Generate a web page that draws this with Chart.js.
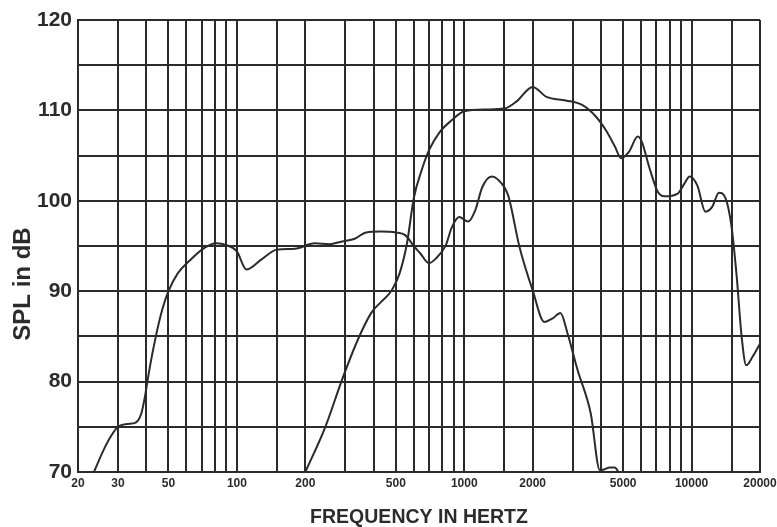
<!DOCTYPE html>
<html>
<head>
<meta charset="utf-8">
<script src="https://cdn.jsdelivr.net/npm/chart.js@4.4.1/dist/chart.umd.min.js"></script>
<style>
  html, body { margin: 0; padding: 0; background: #fff; }
  #box { width: 777px; height: 527px; }
</style>
</head>
<body>
<div id="box"><canvas id="myChart"></canvas></div>
<script>
// Data

// woofer curve: frequency (Hz) and level (dB)
const wooferHz = [23.5, 26, 28, 30, 33, 36, 38, 39.5, 41, 44, 47, 50, 55, 62, 72, 81, 90, 100, 110, 128, 150, 180, 220, 255, 290, 330, 370, 430, 500, 550, 600, 640, 700, 750, 830, 880, 950, 1040, 1120, 1200, 1320, 1400, 1560, 1750, 2000, 2250, 2450, 2650, 2850, 3150, 3600, 3950, 4150, 4350, 4600, 4750];
const wooferDb = [70, 72.5, 74, 75, 75.3, 75.5, 76.5, 78.5, 81, 85, 88, 90, 92, 93.4, 94.8, 95.3, 95.1, 94.4, 92.4, 93.5, 94.6, 94.7, 95.3, 95.2, 95.5, 95.8, 96.5, 96.6, 96.5, 96.2, 95, 94.2, 93.1, 93.6, 95.1, 97, 98.2, 97.7, 99, 101.5, 102.7, 102.4, 100.6, 94.9, 90.1, 86.6, 87, 87.6, 85.3, 81.3, 76.5, 70.2, 70.3, 70.5, 70.5, 70.1];

// tweeter / horn curve
const hornHz = [200, 245, 290, 340, 390, 430, 480, 520, 560, 600, 650, 700, 780, 880, 1000, 1250, 1500, 1700, 2000, 2300, 2800, 3300, 3800, 4200, 4600, 4900, 5300, 5800, 6050, 6500, 7100, 7600, 8700, 9300, 9800, 10600, 11500, 12300, 13200, 14100, 15000, 15800, 16600, 17400, 18600, 20000];
const hornDb = [70, 75, 80.2, 84.6, 87.6, 88.8, 90.1, 92, 95.3, 100.3, 103.4, 105.6, 107.6, 108.9, 109.9, 110.1, 110.2, 111, 112.6, 111.5, 111.1, 110.6, 109.3, 107.8, 106, 104.7, 105.4, 107.1, 106.5, 103.8, 101, 100.5, 100.8, 101.9, 102.7, 101.7, 98.8, 99.3, 100.9, 100.3, 97.1, 91.6, 85, 81.8, 82.8, 84.2];

// grid lines and tick labels
const xGrid = [20, 30, 40, 50, 60, 70, 80, 90, 100, 150, 200, 300, 400, 500, 600, 700, 800, 900, 1000, 1500, 2000, 3000, 4000, 5000, 6000, 7000, 8000, 9000, 10000, 15000, 20000];
const xLabels = [20, 30, 50, 100, 200, 500, 1000, 2000, 5000, 10000, 20000];
const yLabels = [70, 80, 90, 100, 110, 120];

const ink = '#2b2b2b';
const face = 'Liberation Sans, Arial, sans-serif';

function pts(xs, ys) {
  return xs.map((x, i) => ({x: x, y: ys[i]}));
}

// y axis title sits a bit below the middle in the original, so draw it here
const yTitle = {
  id: 'yTitle',
  afterDraw: function(chart) {
    const ctx = chart.ctx;
    ctx.save();
    ctx.translate(23, 284);
    ctx.rotate(-Math.PI / 2);
    ctx.font = 'bold 24px ' + face;
    ctx.fillStyle = ink;
    ctx.textAlign = 'center';
    ctx.textBaseline = 'middle';
    ctx.fillText('SPL in dB', 0, 0);
    ctx.restore();
  }
};

const data = {
  datasets: [{
    label: 'woofer',
    data: pts(wooferHz, wooferDb),
    borderColor: ink,
    borderWidth: 2,
    pointRadius: 0,
    cubicInterpolationMode: 'monotone',
    fill: false
  }, {
    label: 'horn',
    data: pts(hornHz, hornDb),
    borderColor: ink,
    borderWidth: 2,
    pointRadius: 0,
    cubicInterpolationMode: 'monotone',
    fill: false
  }]
};

const config = {
  type: 'line',
  data: data,
  plugins: [yTitle],
  options: {
    responsive: true,
    maintainAspectRatio: false,
    animation: false,
    layout: { padding: { left: 8, right: 17, top: 20, bottom: 0 } },
    plugins: {
      legend: { display: false },
      tooltip: { enabled: false }
    },
    scales: {
      x: {
        type: 'logarithmic',
        min: 20,
        max: 20000,
        afterBuildTicks: function(scale) {
          scale.ticks = xGrid.map(v => ({value: v}));
        },
        afterFit: function(scale) {
          scale.height = 55;
          scale.paddingRight = 0;
          scale.paddingLeft = 0;
        },
        ticks: {
          autoSkip: false,
          maxRotation: 0,
          padding: 4,
          color: ink,
          font: { family: face, size: 12, weight: 'bold' },
          callback: function(v) { return xLabels.includes(v) ? String(v) : ''; }
        },
        grid: { color: ink, lineWidth: 2, drawTicks: false },
        border: { color: ink, width: 2 },
        title: {
          display: true,
          text: 'FREQUENCY IN HERTZ',
          color: ink,
          padding: 0,
          font: { family: face, size: 19.5, weight: 'bold', lineHeight: 1 }
        }
      },
      y: {
        min: 70,
        max: 120,
        afterFit: function(scale) { scale.width = 70; },
        ticks: {
          stepSize: 5,
          padding: 6,
          color: ink,
          font: { family: face, size: 21, weight: 'bold' },
          callback: function(v) { return yLabels.includes(v) ? String(v) : ''; }
        },
        grid: { color: ink, lineWidth: 2, drawTicks: false },
        border: { color: ink, width: 2 }
      }
    }
  }
};

var myChart = new Chart(
  document.getElementById('myChart'),
  config
);
</script>
</body>
</html>
